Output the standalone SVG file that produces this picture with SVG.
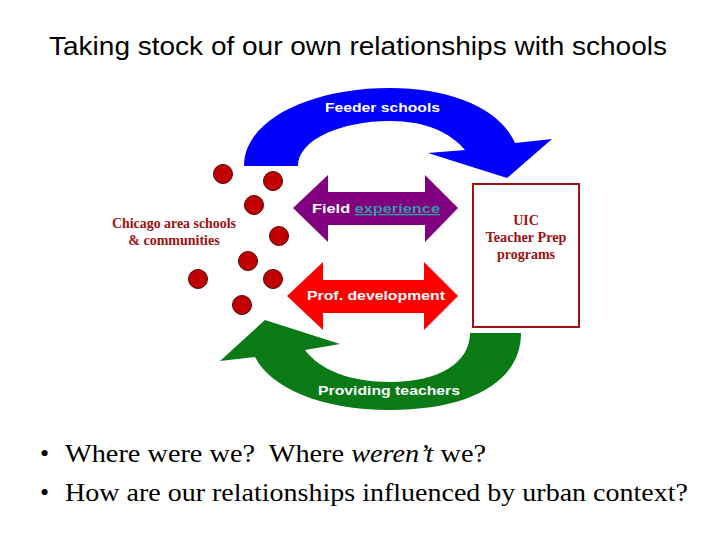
<svg xmlns="http://www.w3.org/2000/svg" width="720" height="540" viewBox="0 0 720 540">
<style>
.title{font-family:"Liberation Sans",Arial,sans-serif;font-size:25px;fill:#000}
.lbl{font-family:"Liberation Sans",Arial,sans-serif;font-size:13px;font-weight:bold;fill:#fff}
.dr{font-family:"Liberation Serif","Times New Roman",serif;font-size:14px;font-weight:bold;fill:#a01010}
.bul{font-family:"Liberation Serif","Times New Roman",serif;font-size:26px;fill:#000}
.dot{fill:#c00000;stroke:#500000;stroke-width:1}
</style>
<rect width="720" height="540" fill="#fff"/>
<text class="title" x="358" y="55" text-anchor="middle" textLength="618" lengthAdjust="spacingAndGlyphs">Taking stock of our own relationships with schools</text>

<g id="connectors">
<g id="feeder">
<path d="M244,166 C244,120 310,88 390,88 C450,88 500,108 515,143 L552,139 L507,178 L428,153 L465,150 C450,132 425,121 390,121 C340,121 298,140 298,166 Z" fill="#0000ff"/>
<text class="lbl" x="325" y="112" textLength="115" lengthAdjust="spacingAndGlyphs">Feeder schools</text>
</g>
<g id="field">
<path d="M293,208 L328,175 L328,192 L425,192 L425,175 L458,208 L425,242 L425,225 L328,225 L328,242 Z" fill="#800080"/>
<text class="lbl" x="312" y="213" textLength="128" lengthAdjust="spacingAndGlyphs">Field <tspan fill="#3399aa" text-decoration="underline">experience</tspan></text>
</g>
<g id="profdev">
<path d="M287,296 L323,262 L323,280 L424,280 L424,262 L458,296 L424,330 L424,313 L323,313 L323,330 Z" fill="#ff0000"/>
<text class="lbl" x="307" y="300" textLength="138" lengthAdjust="spacingAndGlyphs">Prof. development</text>
</g>
<g id="providing">
<path d="M521,333 C521,382 470,410 390,410 C320,410 270,387 255,357 L220,361 L265,320 L340,344 L305,350 C320,370 350,382 390,382 C440,382 470,362 470,333 Z" fill="#0a7a16"/>
<text class="lbl" x="318" y="395" textLength="142" lengthAdjust="spacingAndGlyphs">Providing teachers</text>
</g>
</g>

<g id="schools">
<circle class="dot" cx="223" cy="174" r="9.5"/>
<circle class="dot" cx="273" cy="181" r="9.5"/>
<circle class="dot" cx="254" cy="205" r="9.5"/>
<circle class="dot" cx="279" cy="236" r="9.5"/>
<circle class="dot" cx="248" cy="261" r="9.5"/>
<circle class="dot" cx="198" cy="279" r="9.5"/>
<circle class="dot" cx="273" cy="279" r="9.5"/>
<circle class="dot" cx="242" cy="305" r="9.5"/>
<text class="dr" x="174" y="228" text-anchor="middle" textLength="124" lengthAdjust="spacingAndGlyphs">Chicago area schools</text>
<text class="dr" x="174" y="245" text-anchor="middle">&amp; communities</text>
</g>

<g id="uic">
<rect x="473" y="184" width="106" height="143" fill="#fff" stroke="#a01010" stroke-width="2"/>
<text class="dr" x="526" y="225" text-anchor="middle">UIC</text>
<text class="dr" x="526" y="242" text-anchor="middle" textLength="81" lengthAdjust="spacingAndGlyphs">Teacher Prep</text>
<text class="dr" x="526" y="259" text-anchor="middle">programs</text>
</g>

<g id="bullets">
<text class="bul" x="40" y="462">•</text>
<text class="bul" x="65" y="462" xml:space="preserve" textLength="421" lengthAdjust="spacingAndGlyphs">Where were we?  Where <tspan font-style="italic">weren’t</tspan> we?</text>
<text class="bul" x="40" y="501">•</text>
<text class="bul" x="65" y="501" textLength="623" lengthAdjust="spacingAndGlyphs">How are our relationships influenced by urban context?</text>
</g>
</svg>
